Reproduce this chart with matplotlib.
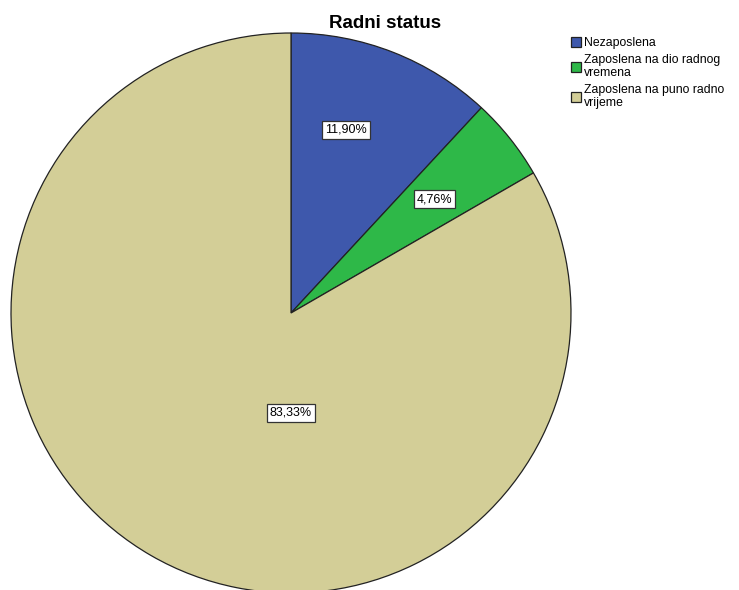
import matplotlib
matplotlib.use("Agg")
import matplotlib.pyplot as plt
from matplotlib.patches import Patch

plt.rcParams['font.family'] = ['Liberation Sans', 'DejaVu Sans']

categories = ["Nezaposlena", "Zaposlena na dio radnog\nvremena", "Zaposlena na puno radno\nvrijeme"]
values = [11.90, 4.76, 83.33]
labels = ["11,90%", "4,76%", "83,33%"]
colors = ["#3e58ac", "#2eb848", "#d3ce97"]
# label anchor points in units of the pie radius (layout, as placed by SPSS)
label_pos = [(0.196, 0.654), (0.514, 0.407), (0.0, -0.357)]

W, H = 739, 590
fig = plt.figure(figsize=(W/100, H/100), dpi=100)
cx, cy, r = 291, 313, 280
ax = fig.add_axes([(cx - r)/W, (H - cy - r)/H, 2*r/W, 2*r/H])
wedges, _ = ax.pie(values, colors=colors, startangle=90, counterclock=False,
                   wedgeprops=dict(edgecolor="#222222", linewidth=0.9))
ax.set_xlim(-1, 1)
ax.set_ylim(-1, 1)
ax.set_aspect('equal')
ax.axis('off')

box = dict(boxstyle="square,pad=0.22", facecolor="white", edgecolor="#333333", linewidth=0.9)
for (x, y), lab in zip(label_pos, labels):
    ax.text(x, y, lab, ha="center", va="center", fontsize=9, bbox=box)

fig.text(385/W, 1 - 28/H, "Radni status", ha="center", va="baseline",
         fontsize=13.5, fontweight="bold")

handles = [Patch(facecolor=c, edgecolor="#222222", linewidth=0.9) for c in colors]
leg = fig.legend(handles, categories, loc="upper left", bbox_to_anchor=(571/W, 1 - 37/H),
                 frameon=False, fontsize=8.8, handlelength=0.85, handleheight=0.85,
                 handletextpad=0.25, labelspacing=0.42, borderpad=0, borderaxespad=0)
for t in leg.get_texts():
    t.set_linespacing(1.08)

fig.savefig("out.png", dpi=100)
